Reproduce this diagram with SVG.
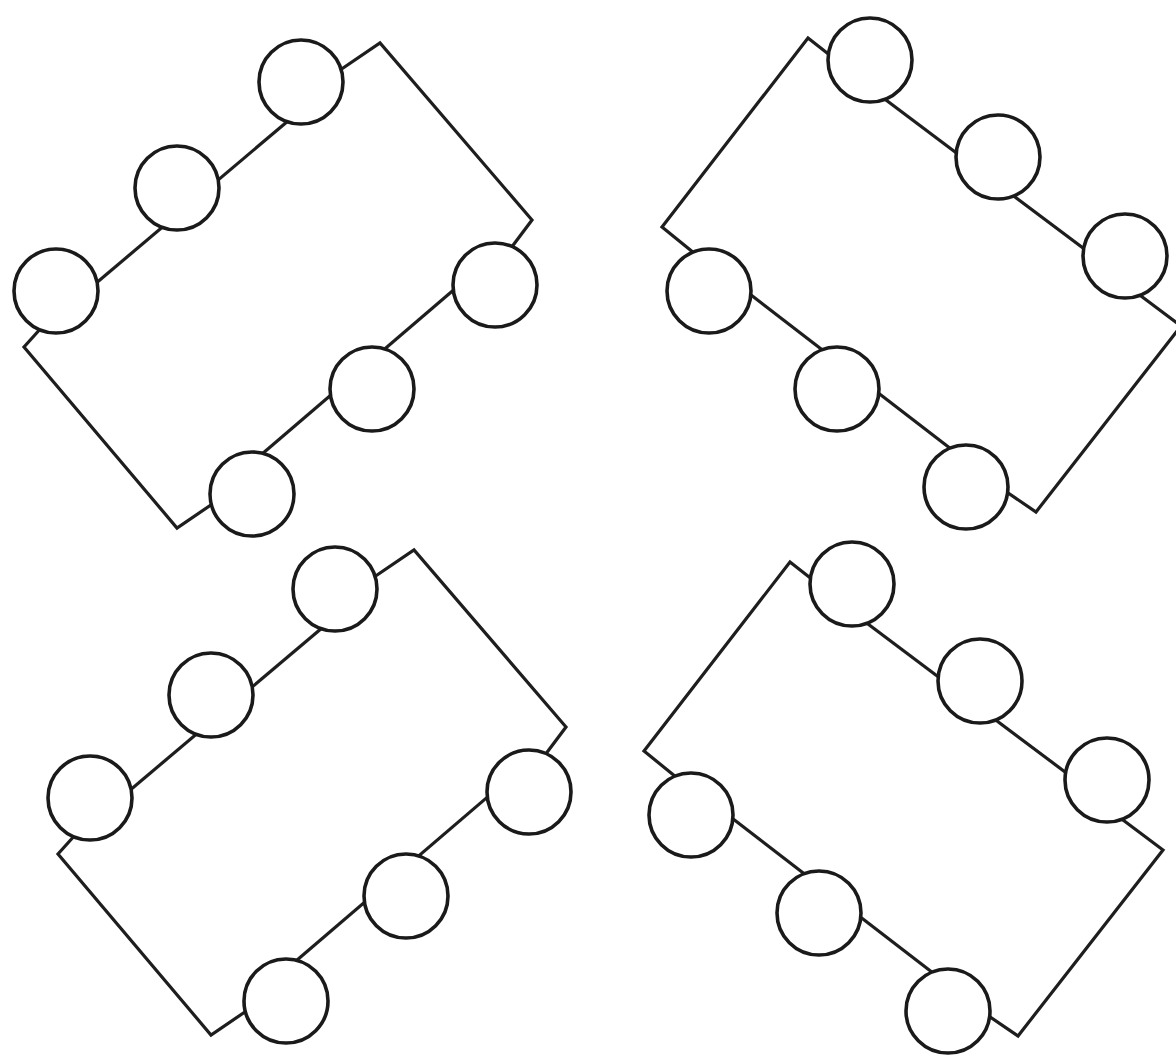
<svg xmlns="http://www.w3.org/2000/svg" width="1176" height="1057" viewBox="0 0 1176 1057">
  <style>
    .wire { fill: none; stroke: #1e1e1e; stroke-width: 3.2; stroke-linejoin: miter; stroke-linecap: butt; }
    .node circle { fill: #ffffff; stroke: #1a1a1a; stroke-width: 3.6; }
  </style>
  <rect x="0" y="0" width="1176" height="1057" fill="#ffffff"/>

  <!-- Cluster 1 (top left) -->
  <g id="cluster-1">
    <g id="connectors-1">
      <path class="wire" d="M56,317 L301,110"/>
      <path class="wire" d="M495,254.5 L252,462.5"/>
      <path class="wire" d="M335,73.5 L380,43 L532,220 L511,248"/>
      <path class="wire" d="M216,501.5 L177,528 L24,347 L42,327"/>
    </g>
    <g id="c1-n1" class="node"><circle cx="56" cy="291" r="42"/></g>
    <g id="c1-n2" class="node"><circle cx="177" cy="188" r="42"/></g>
    <g id="c1-n3" class="node"><circle cx="301" cy="82" r="42"/></g>
    <g id="c1-n4" class="node"><circle cx="495" cy="285" r="42"/></g>
    <g id="c1-n5" class="node"><circle cx="372" cy="389" r="42"/></g>
    <g id="c1-n6" class="node"><circle cx="252" cy="494" r="42"/></g>
  </g>

  <!-- Cluster 2 (top right) -->
  <g id="cluster-2">
    <g id="connectors-2">
      <path class="wire" d="M870,88 L1125,279.5"/>
      <path class="wire" d="M709,262.6 L966,460.5"/>
      <path class="wire" d="M836,60 L808,38 L662,227 L694,253"/>
      <path class="wire" d="M1138,293.7 L1181,326 L1036,512 L1003,489.5"/>
    </g>
    <g id="c2-n1" class="node"><circle cx="870" cy="60" r="42"/></g>
    <g id="c2-n2" class="node"><circle cx="998" cy="157" r="42"/></g>
    <g id="c2-n3" class="node"><circle cx="1125" cy="256" r="42"/></g>
    <g id="c2-n4" class="node"><circle cx="709" cy="291" r="42"/></g>
    <g id="c2-n5" class="node"><circle cx="837" cy="389" r="42"/></g>
    <g id="c2-n6" class="node"><circle cx="966" cy="487" r="42"/></g>
  </g>

  <!-- Cluster 3 (bottom left) -->
  <g id="cluster-3" transform="translate(34,507)">
    <g id="connectors-3">
      <path class="wire" d="M56,317 L301,110"/>
      <path class="wire" d="M495,254.5 L252,462.5"/>
      <path class="wire" d="M335,73.5 L380,43 L532,220 L511,248"/>
      <path class="wire" d="M216,501.5 L177,528 L24,347 L42,327"/>
    </g>
    <g id="c3-n1" class="node"><circle cx="56" cy="291" r="42"/></g>
    <g id="c3-n2" class="node"><circle cx="177" cy="188" r="42"/></g>
    <g id="c3-n3" class="node"><circle cx="301" cy="82" r="42"/></g>
    <g id="c3-n4" class="node"><circle cx="495" cy="285" r="42"/></g>
    <g id="c3-n5" class="node"><circle cx="372" cy="389" r="42"/></g>
    <g id="c3-n6" class="node"><circle cx="252" cy="494" r="42"/></g>
  </g>

  <!-- Cluster 4 (bottom right) -->
  <g id="cluster-4" transform="translate(-18,524)">
    <g id="connectors-4">
      <path class="wire" d="M870,88 L1125,279.5"/>
      <path class="wire" d="M709,262.6 L966,460.5"/>
      <path class="wire" d="M836,60 L808,38 L662,227 L694,253"/>
      <path class="wire" d="M1138,293.7 L1181,326 L1036,512 L1003,489.5"/>
    </g>
    <g id="c4-n1" class="node"><circle cx="870" cy="60" r="42"/></g>
    <g id="c4-n2" class="node"><circle cx="998" cy="157" r="42"/></g>
    <g id="c4-n3" class="node"><circle cx="1125" cy="256" r="42"/></g>
    <g id="c4-n4" class="node"><circle cx="709" cy="291" r="42"/></g>
    <g id="c4-n5" class="node"><circle cx="837" cy="389" r="42"/></g>
    <g id="c4-n6" class="node"><circle cx="966" cy="487" r="42"/></g>
  </g>
</svg>
